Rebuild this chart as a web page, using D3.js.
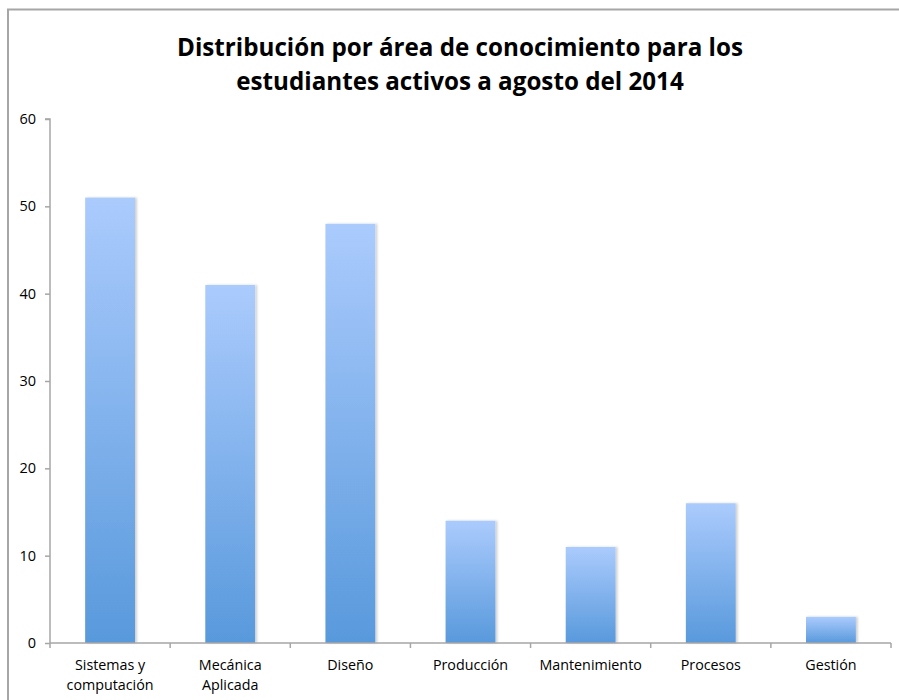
<!DOCTYPE html>
<html>
<head>
<meta charset="utf-8">
<script src="https://cdn.jsdelivr.net/npm/d3@7/dist/d3.min.js"></script>
<style>
  html, body { margin: 0; padding: 0; background: #fff; }
  svg { display: block; }
  text { font-family: "Open Sans", "Liberation Sans", sans-serif; fill: #000; }
</style>
</head>
<body>
<svg id="chart" width="899" height="700"></svg>
<script>
const categories = [
  ["Sistemas y", "computación"],
  ["Mecánica", "Aplicada"],
  ["Diseño"],
  ["Producción"],
  ["Mantenimiento"],
  ["Procesos"],
  ["Gestión"]
];
const values = [51, 41, 48, 14, 11, 16, 3];
const yTicks = [0, 10, 20, 30, 40, 50, 60];
const titleLines = [
  "Distribución por área de conocimiento para los",
  "estudiantes activos a agosto del 2014"
];

const svg = d3.select("#chart");
const margin = { left: 50, right: 891, top: 119, bottom: 643 };

// Outer frame (top and left edges visible)
svg.append("path")
  .attr("d", "M8,700 L8,9.5 L899,9.5")
  .attr("fill", "none")
  .attr("stroke", "#a6a6a6")
  .attr("stroke-width", 2);

const defs = svg.append("defs");
const grad = defs.append("linearGradient")
  .attr("id", "barGrad")
  .attr("x1", 0).attr("y1", 0).attr("x2", 0).attr("y2", 1);
grad.append("stop").attr("offset", "0%").attr("stop-color", "#abcbfd");
grad.append("stop").attr("offset", "100%").attr("stop-color", "#5899dc");

const shadow = defs.append("filter").attr("id", "barShadow")
  .attr("x", "-20%").attr("y", "-5%").attr("width", "140%").attr("height", "110%");
shadow.append("feDropShadow")
  .attr("dx", 2).attr("dy", 0).attr("stdDeviation", 1.2)
  .attr("flood-color", "#000").attr("flood-opacity", 0.18);

const x = d3.scaleBand()
  .domain(d3.range(categories.length))
  .range([margin.left, margin.right])
  .paddingInner(0.585)
  .paddingOuter(0.2925);

const y = d3.scaleLinear()
  .domain([0, 60])
  .range([margin.bottom, margin.top]);

// Bars
svg.append("g").selectAll("rect")
  .data(values)
  .join("rect")
  .attr("x", (d, i) => x(i))
  .attr("y", d => y(d))
  .attr("width", x.bandwidth())
  .attr("height", d => y(0) - y(d))
  .attr("fill", "url(#barGrad)")
  .attr("filter", "url(#barShadow)");

// Y axis
const yAxis = d3.axisLeft(y).tickValues(yTicks).tickSize(5).tickPadding(9);
const gy = svg.append("g")
  .attr("transform", `translate(${margin.left},0)`)
  .call(yAxis);
gy.select(".domain").attr("stroke", "#a6a6a6").attr("stroke-width", 1.5)
  .attr("d", `M-5,${margin.top}H0V${margin.bottom}`);
gy.selectAll(".tick line").attr("stroke", "#a6a6a6").attr("stroke-width", 1.5);
gy.selectAll(".tick text").attr("font-size", 14.5).attr("fill", "#000")
  .style("font-family", "'Open Sans', sans-serif");

// X axis with ticks at category boundaries
const xPos = d3.scaleLinear().domain([0, categories.length]).range([margin.left, margin.right]);
const gx = svg.append("g");
gx.append("path")
  .attr("d", `M${margin.left},${margin.bottom}H${margin.right}`)
  .attr("stroke", "#a6a6a6").attr("stroke-width", 1.5).attr("fill", "none");
gx.selectAll("line.tk")
  .data(d3.range(categories.length + 1))
  .join("line")
  .attr("class", "tk")
  .attr("x1", d => xPos(d)).attr("x2", d => xPos(d))
  .attr("y1", margin.bottom).attr("y2", margin.bottom + 5)
  .attr("stroke", "#a6a6a6").attr("stroke-width", 1.5);

// Category labels
const labels = svg.append("g").selectAll("text")
  .data(categories)
  .join("text")
  .attr("x", (d, i) => x(i) + x.bandwidth() / 2)
  .attr("y", 670)
  .attr("text-anchor", "middle")
  .attr("font-size", 14.3);
labels.selectAll("tspan")
  .data(d => d)
  .join("tspan")
  .attr("x", function() { return d3.select(this.parentNode).attr("x"); })
  .attr("dy", (d, i) => i === 0 ? 0 : 20)
  .text(d => d);

// Title
svg.append("g").selectAll("text")
  .data(titleLines)
  .join("text")
  .attr("x", 460)
  .attr("y", (d, i) => 56 + i * 34)
  .attr("text-anchor", "middle")
  .attr("font-size", 24.2)
  .attr("font-weight", "bold")
  .text(d => d);
</script>
</body>
</html>
